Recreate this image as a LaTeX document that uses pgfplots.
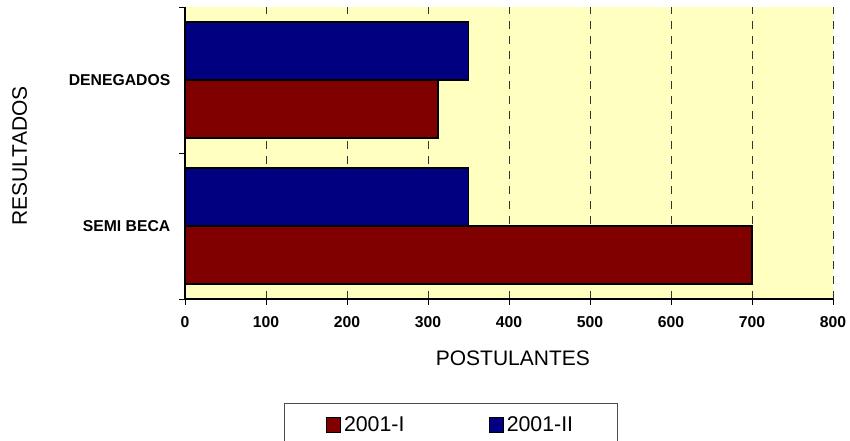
\documentclass[border=0pt]{standalone}
\usepackage{fontspec}
\setmainfont{Liberation Sans}
\usepackage{pgfplots}
\pgfplotsset{compat=1.18}
\definecolor{bgyel}{HTML}{FFFFC0}
\definecolor{barred}{HTML}{800000}
\definecolor{barblue}{HTML}{000080}
\begin{document}
\begin{tikzpicture}
\begin{axis}[
  scale only axis, width=486pt, height=219pt,
  xbar, bar width=43.5pt,
  xmin=0, xmax=800, ymin=0.5, ymax=2.5,
  axis lines*=left,
  axis line style={-, line width=0.8pt, black},
  axis background/.style={fill=bgyel},
  xtick={0,100,...,800},
  ytick={0.5,1.5,2.5}, yticklabels={},
  extra y ticks={1,2},
  extra y tick labels={SEMI BECA,DENEGADOS},
  extra y tick style={tick style={draw=none}},
  tick align=outside,
  major tick length=4.5pt,
  tick style={black, line width=0.6pt},
  xmajorgrids=true,
  major grid style={dash pattern=on 6pt off 5.25pt, black!80, line width=0.6pt},
  /pgf/number format/assume math mode=true,
  ticklabel style={font=\bfseries\fontsize{11.8}{13}\selectfont},
  xticklabel style={yshift=-5pt},
  yticklabel style={xshift=-3pt},
  xlabel={POSTULANTES},
  xlabel style={at={(axis description cs:0.506,0)}, anchor=center, yshift=-44.25pt,
    font=\fontsize{15.75}{18}\selectfont},
  ylabel={RESULTADOS},
  ylabel style={at={(axis description cs:-0.2551,0.49)}, anchor=center,
    font=\fontsize{15.75}{18}\selectfont},
  legend columns=2,
  legend image code/.code={\draw[#1,draw=black,line width=0.7pt] (0pt,-5.5pt) rectangle (11pt,5.5pt);},
  legend style={at={(axis description cs:0.1528,-0.3562)}, anchor=north west,
    draw=black!70, line width=0.6pt, inner xsep=31pt, inner ysep=8pt,
    font=\fontsize{16}{18}\selectfont,
    /tikz/every even column/.append style={column sep=61pt}},
  clip=false,
]
\addplot[fill=barred, draw=black, line width=1.4pt, bar shift=-21.75pt]
  coordinates {(700,1) (312,2)};
\addlegendentry{2001-I}
\addplot[fill=barblue, draw=black, line width=1.4pt, bar shift=21.75pt]
  coordinates {(350,1) (350,2)};
\addlegendentry{2001-II}
\end{axis}
\pgfresetboundingbox
\path[use as bounding box] (-138.75pt,-106.5pt) rectangle (498.75pt,224.25pt);
\end{tikzpicture}
\end{document}
